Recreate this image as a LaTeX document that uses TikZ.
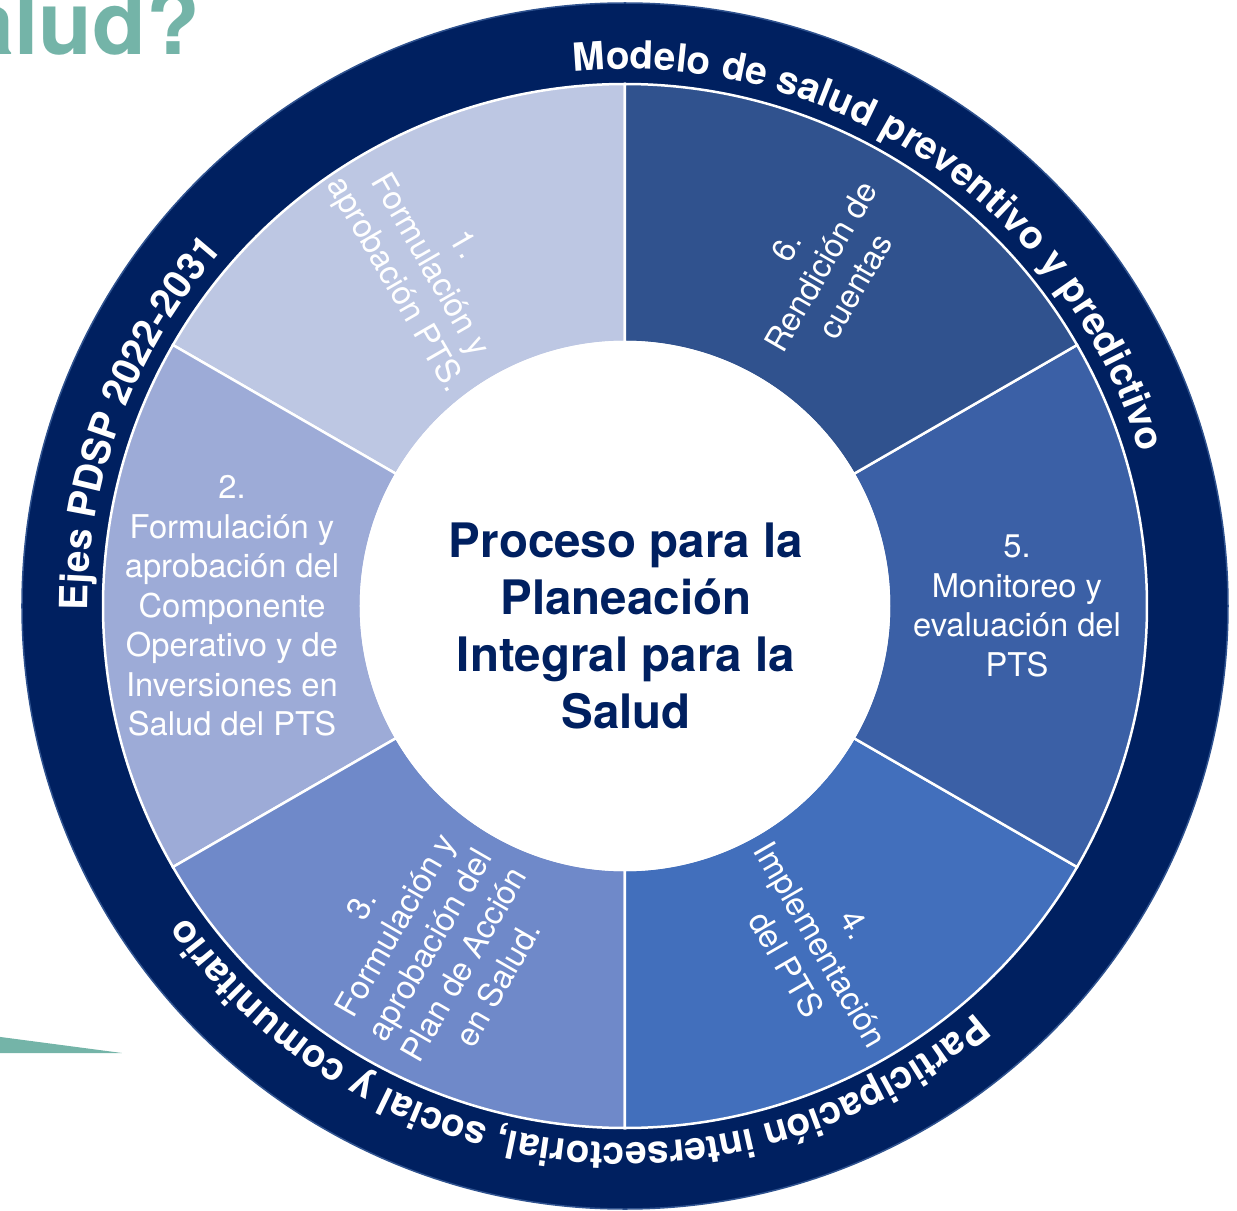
\documentclass[tikz,border=0pt]{standalone}
\usepackage{fontspec}
\setmainfont{TeX Gyre Heros}
\usetikzlibrary{decorations.text}
\definecolor{ringblue}{HTML}{002060}
\definecolor{rimblue}{HTML}{2F528F}
\definecolor{segA}{HTML}{BDC7E3}
\definecolor{segB}{HTML}{9DABD7}
\definecolor{segC}{HTML}{6F89C9}
\definecolor{segD}{HTML}{426FBC}
\definecolor{segE}{HTML}{3B60A6}
\definecolor{segF}{HTML}{30528E}
\definecolor{tealish}{HTML}{74B4A8}
\newcommand\ringfont{\fontsize{38.8bp}{40bp}\selectfont\bfseries}
\begin{document}
\begin{tikzpicture}[x=1bp, y=1bp,
  segtext/.style={text=white, align=center, font=\fontsize{32.7bp}{39.5bp}\selectfont, inner sep=0pt},
  title/.style={text=ringblue, align=center, font=\fontsize{47.5bp}{57bp}\selectfont\bfseries, inner sep=0pt},
  sepline/.style={draw=white, line width=2.5bp},
  ringtext/.style={decorate, decoration={text along path, text format delimiters={|}{|}, text color=white, text align=center}},
]
\clip (-625,-605) rectangle (612,606);
% background fragments
\node[anchor=base west, text=tealish, font=\fontsize{88bp}{90bp}\selectfont\bfseries, inner sep=0pt] (heading) at (-660,551) {alud?};
\fill[tealish] (-632,-430) -- (-503,-447) -- (-632,-447) -- cycle;
% outer ring
\fill[ringblue] (0,0) circle[radius=603];
\draw[rimblue, line width=1.5bp] (0,0) circle[radius=603];
% segments
\foreach \a/\c in {90/segA, 150/segB, 210/segC, 270/segD, 330/segE, 30/segF} {
  \filldraw[fill=\c, sepline] (\a:264) -- (\a:522) arc[start angle=\a, end angle={\a+60}, radius=522] -- ({\a+60}:264) arc[start angle={\a+60}, end angle=\a, radius=264] -- cycle;
}
% hub
\filldraw[fill=white, sepline] (0,0) circle[radius=264];
% ring texts
\path[ringtext, decoration={text={|\ringfont|Modelo de salud preventivo y predictivo}}] (100:537) arc[start angle=100, end angle=12, radius=537];
\path[ringtext, decoration={text={|\ringfont|Ejes PDSP 2022-2031}}] (185:537) arc[start angle=185, end angle=134, radius=537];
\path[ringtext, decoration={text={|\ringfont|Participación intersectorial, social y comunitario}}] (-45:537) arc[start angle=-45, end angle=-149, radius=537];
% segment texts
\node[segtext, rotate=-60] (s1) at (120:393) {1.\\Formulación y\\aprobación PTS.};
\node[segtext] (s2) at (180:393) {2.\\Formulación y\\aprobación del\\Componente\\Operativo y de\\Inversiones en\\Salud del PTS};
\node[segtext, rotate=60] (s3) at (240:391) {3.\\Formulación y\\aprobación del\\Plan de Acción\\en Salud.};
\node[segtext, rotate=-60] (s4) at (300:391) {4.\\Implementación\\del PTS};
\node[segtext] (s5) at (0:392) {5.\\Monitoreo y\\evaluación del\\PTS};
\node[segtext, rotate=60] (s6) at (60:392) {6.\\Rendición de\\cuentas};
% title
\node[title, anchor=base] (title) at (1,-122) {Proceso para la\\Planeación\\Integral para la\\Salud};
\end{tikzpicture}
\end{document}
